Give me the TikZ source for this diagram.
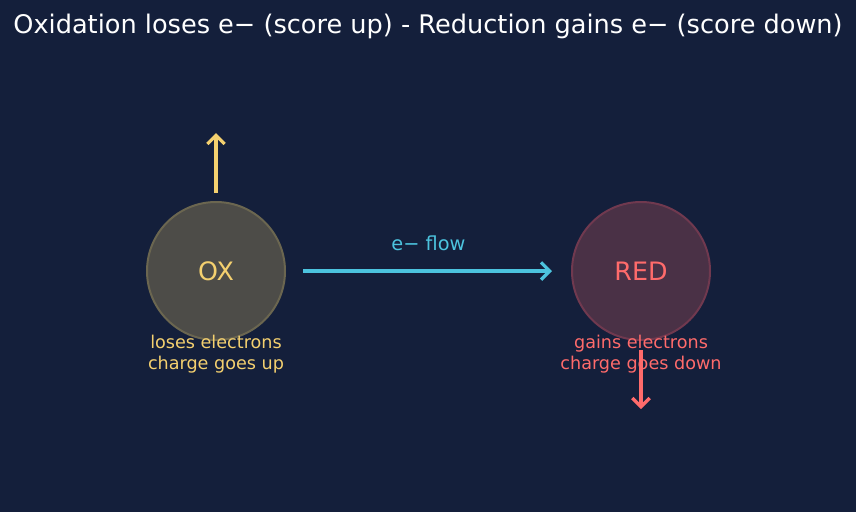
\documentclass[tikz,border=0pt]{standalone}
\usepackage{fontspec}
\setmainfont{DejaVu Sans}
\usetikzlibrary{arrows.meta,positioning}
\definecolor{cBg}{HTML}{141F3B}
\definecolor{cY}{HTML}{F4D06F}
\definecolor{cR}{HTML}{FF6B6B}
\definecolor{cC}{HTML}{4CC3DE}
\definecolor{cOxFill}{HTML}{4D4C48}
\definecolor{cOxLine}{HTML}{6B6650}
\definecolor{cRedFill}{HTML}{4A3146}
\definecolor{cRedLine}{HTML}{70394F}
\tikzset{myball/.style={
  shape=circle,
  minimum size=103.5pt,
  inner sep=0pt,
  line width=1.5pt,
  font=\fontsize{19}{22}\selectfont,
  }
}
\tikzset{mynote/.style={
  align=center,
  font=\fontsize{13.2}{15.75}\selectfont,
  }
}
\tikzset{myarrow/.style={
  line width=2.4pt,
  -{Straight Barb[length=6.5pt,width=13pt,line width=2.4pt]},
  }
}

\begin{document}
\begin{tikzpicture}[x=0.75pt,y=-0.75pt]
  \fill[cBg] (0,0) rectangle (856,512);
  \useasboundingbox (0,0) rectangle (856,512);

  \node[text=white, font=\fontsize{19.2}{22}\selectfont] (title) at (428,26)
    {Oxidation loses e− (score up) - Reduction gains e− (score down)};

  \node[myball, fill=cOxFill, draw=cOxLine, text=cY] (ox) at (216,271) {OX};
  \node[myball, fill=cRedFill, draw=cRedLine, text=cR] (red) at (641,271) {RED};

  \node[mynote, text=cY] (oxnote) at (216,354) {loses electrons\\charge goes up};
  \node[mynote, text=cR] (rednote) at (641,354) {gains electrons\\charge goes down};

  \coordinate (uptail) at (216,193);
  \coordinate (uphead) at (216,133);
  \coordinate (downtail) at (641,350);
  \coordinate (downhead) at (641,409);

  \draw[myarrow, cY] (uptail) -- (uphead);
  \draw[myarrow, cR] (downtail) -- (downhead);
  \draw[myarrow, cC, shorten <=12.75pt, shorten >=14.25pt] (ox) -- (red)
    node[midway, above=11pt, text=cC, font=\fontsize{14.5}{17}\selectfont] (flowlabel) {e− flow};
\end{tikzpicture}
\end{document}
